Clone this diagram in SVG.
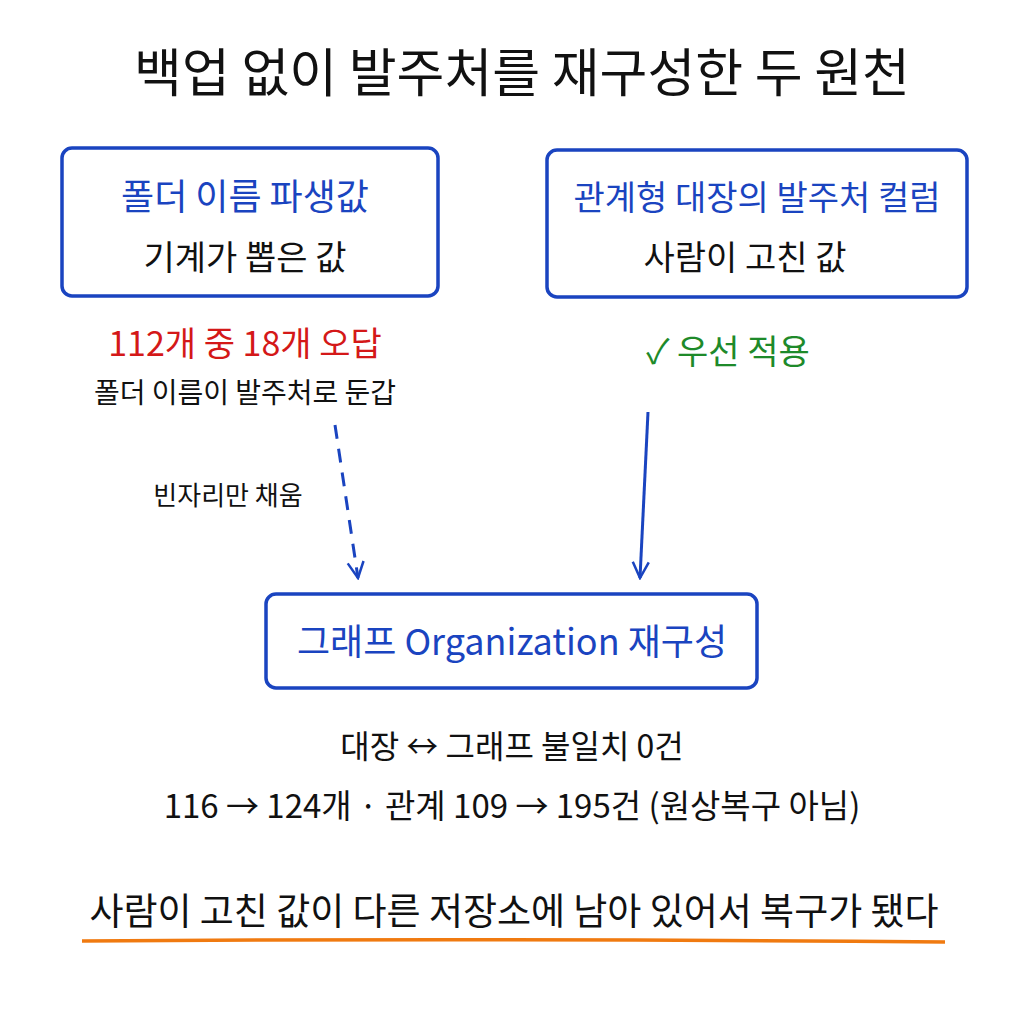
<svg xmlns="http://www.w3.org/2000/svg" width="1024" height="1024" viewBox="0 0 1024 1024">
<defs>
<style>
text{font-family:"Noto Sans CJK KR","Noto Sans",sans-serif;text-anchor:middle}
.box{fill:#fff;stroke:#1a44c0;stroke-width:3.5}
.blue{fill:#1a44c0}
.blk{fill:#111}
.ln{stroke:#1a44c0;stroke-width:3;fill:none}
</style>
<marker id="ah" viewBox="0 0 20 20" refX="18" refY="10" markerWidth="20" markerHeight="20" markerUnits="userSpaceOnUse" orient="auto">
<path d="M2,2 L18,10 L2,18" fill="none" stroke="#1a44c0" stroke-width="2.5"/>
</marker>
</defs>
<rect width="1024" height="1024" fill="#fff"/>
<text x="522" y="92" font-size="52" class="blk">백업 없이 발주처를 재구성한 두 원천</text>
<g id="left">
<rect class="box" x="62" y="148" width="376" height="148" rx="10"/>
<text x="245" y="210" font-size="36" class="blue">폴더 이름 파생값</text>
<text x="245" y="270" font-size="34" class="blk">기계가 뽑은 값</text>
</g>
<g id="right">
<rect class="box" x="547" y="150" width="420" height="147" rx="10"/>
<text x="757" y="210" font-size="34" class="blue">관계형 대장의 발주처 컬럼</text>
<text x="745" y="270" font-size="34" class="blk">사람이 고친 값</text>
</g>
<g id="leftnote">
<text x="245" y="356" font-size="34" fill="#d41818">112개 중 18개 오답</text>
<text x="245" y="403" font-size="28" class="blk">폴더 이름이 발주처로 둔갑</text>
</g>
<g id="rightnote"><text x="728" y="364" font-size="34" fill="#1e8a2a">✓ 우선 적용</text></g>
<g id="center">
<rect class="box" x="266" y="594" width="491" height="94" rx="10"/>
<text x="512" y="655" font-size="36" class="blue">그래프 Organization 재구성</text>
</g>
<g id="connectors">
<path class="ln" d="M335,425 L358,578" stroke-dasharray="14,10" marker-end="url(#ah)"/>
<path class="ln" d="M648,412 L640,578" marker-end="url(#ah)"/>
<text x="228" y="505" font-size="26" class="blk">빈자리만 채움</text>
</g>
<g id="stats">
<text x="512" y="758" font-size="32" class="blk">대장 ↔ 그래프 불일치 0건</text>
<text x="512" y="818" font-size="33" class="blk">116 → 124개 · 관계 109 → 195건 (원상복구 아님)</text>
</g>
<g id="bottom">
<text x="514" y="925" font-size="37" class="blk">사람이 고친 값이 다른 저장소에 남아 있어서 복구가 됐다</text>
<path d="M82,941 Q500,938 945,942" stroke="#f07a10" stroke-width="3.5" fill="none"/>
</g>
</svg>
